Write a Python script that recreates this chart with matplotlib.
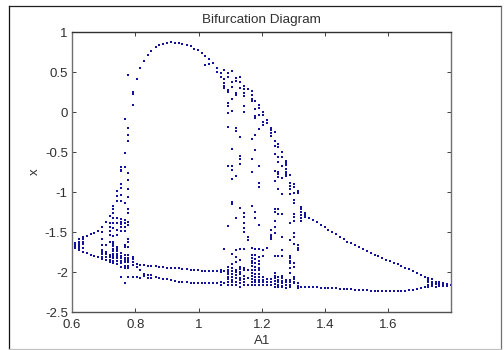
import matplotlib
matplotlib.use("Agg")
import matplotlib.pyplot as plt
from matplotlib.lines import Line2D

plt.rcParams['font.family'] = ['Liberation Sans', 'DejaVu Sans']

# one (A1, [x values]) entry per parameter step
left_band = [
    (0.608, [-1.64, -1.66, -1.68, -1.70]),
    (0.622, [-1.59, -1.62, -1.65, -1.68, -1.70, -1.725]),
    (0.634, [-1.56, -1.59, -1.62, -1.65, -1.70, -1.755]),
    (0.646, [-1.546, -1.767]),
    (0.659, [-1.525, -1.788]),
    (0.671, [-1.508, -1.80]),
    (0.682, [-1.488, -1.817]),
    (0.695, [-1.442, -1.504, -1.588, -1.663, -1.725, -1.75, -1.78, -1.81, -1.842]),
    (0.707, [-1.371, -1.663, -1.746, -1.78, -1.815, -1.85]),
    (0.720, [-1.30, -1.383, -1.433, -1.483, -1.537, -1.62, -1.788, -1.815, -1.845, -1.871]),
    (0.731, [-1.175, -1.217, -1.258, -1.329, -1.383, -1.454, -1.55, -1.62, -1.65, -1.68, -1.71,
             -1.74, -1.77, -1.80, -1.83, -1.86, -1.892]),
    (0.742, [-0.988, -1.05, -1.108, -1.33, -1.392, -1.475, -1.537, -1.683, -1.71, -1.74, -1.77,
             -1.80, -1.83, -1.86, -1.904]),
    (0.756, [-0.683, -0.72, -0.733, -0.90, -0.954, -1.038, -1.108, -1.342, -1.37, -1.40, -1.433,
             -1.483, -1.767, -1.80, -1.83, -1.86, -1.89, -1.933, -2.058]),
    (0.768, [-0.092, -0.513, -0.683, -1.142, -1.35, -1.39, -1.433, -1.488, -1.66, -1.69, -1.788,
             -1.82, -1.85, -1.88, -1.92, -1.954, -2.142]),
    (0.778, [0.463, -0.196, -0.288, -0.358, -0.758, -0.85, -0.967, -1.058, -1.217, -1.267, -1.371,
             -1.413, -1.592, -1.63, -1.692, -1.788, -1.82, -1.85, -1.88, -1.92, -1.954, -2.067]),
    (0.792, [0.25, 0.225, 0.092, -1.808, -1.84, -1.87, -1.913, -2.058]),
]

upper_arc = [
    (0.804, [0.417, -1.904, -1.942, -2.058]),
    (0.815, [0.546, -1.913, -1.975, -2.071]),
    (0.829, [0.637, -1.913, -2.021, -2.05]),
    (0.841, [0.712, -1.921, -2.042, -2.079]),
    (0.851, [0.767, -1.925, -2.042, -2.079]),
    (0.865, [0.808, -1.929, -2.067]),
    (0.876, [0.842, -1.937, -2.075]),
    (0.888, [0.854, -1.942, -2.083]),
    (0.901, [0.867, -1.946, -2.092]),
    (0.913, [0.871, -1.95, -2.104]),
    (0.926, [0.863, -1.954, -2.117]),
    (0.938, [0.858, -1.954, -2.121]),
    (0.949, [0.85, -1.958, -2.125]),
    (0.963, [0.833, -1.967, -2.129]),
    (0.975, [0.821, -1.971, -2.133]),
    (0.986, [0.792, -1.975, -2.138]),
    (0.999, [0.771, -1.979, -2.142]),
    (1.010, [0.737, -1.983, -2.142]),
    (1.021, [0.704, 0.587, -1.983, -2.142]),
    (1.034, [0.662, 0.60, -1.983, -2.142]),
    (1.045, [0.617, -1.988, -2.142]),
    (1.058, [0.554, 0.504, -1.988, -2.142]),
]

chaos_columns = [
    (1.070, [0.483, 0.442, -1.975, -2.0, -2.12, -2.163]),
    (1.082, [0.525, 0.412, 0.358, 0.33, 0.296, -1.708, -1.988, -2.142]),
    (1.094, [0.483, 0.433, 0.275, 0.246, 0.117, 0.079, -0.008, -0.183, -0.671, -1.425, -1.942,
             -1.97, -2.0, -2.03, -2.06, -2.09, -2.12, -2.163]),
    (1.107, [0.517, 0.371, 0.317, 0.167, 0.012, -0.463, -0.671, -0.721, -0.838, -1.121, -1.154,
             -1.775, -1.90, -1.954, -1.99, -2.02, -2.06, -2.10, -2.13, -2.163]),
    (1.119, [0.421, 0.392, 0.242, 0.208, -0.196, -0.233, -0.80, -1.321, -1.725, -1.817, -1.871,
             -1.975, -2.0, -2.04, -2.08, -2.12, -2.163]),
    (1.132, [0.433, 0.371, 0.304, -0.317, -0.55, -0.583, -0.65, -1.204, -1.717, -1.85, -1.933,
             -1.96, -2.0, -2.03, -2.07, -2.10, -2.14, -2.183]),
    (1.143, [0.325, 0.283, 0.242, 0.204, 0.075, 0.004, -1.267, -1.308, -1.383, -1.454, -1.504,
             -1.713, -1.954, -1.98, -2.05, -2.09, -2.13, -2.163]),
    (1.155, [0.283, -1.558, -1.6, -1.975, -2.079, -2.163]),
    (1.169, [0.258, 0.208, 0.158, 0.137, -0.337, -0.583, -0.75, -1.171, -1.696, -1.788, -1.82,
             -1.86, -1.892, -1.93, -1.97, -2.01, -2.05, -2.09, -2.13, -2.163]),
    (1.180, [0.142, 0.033, -0.046, -0.079, -0.288, -0.471, -1.254, -1.329, -1.713, -1.788, -1.84,
             -1.89, -1.94, -1.98, -2.02, -2.06, -2.10, -2.13, -2.163]),
    (1.192, [0.087, 0.054, -0.042, -0.208, -0.679, -0.883, -0.933, -1.413, -1.717, -1.817, -1.86,
             -1.90, -1.95, -1.98, -2.02, -2.06, -2.10, -2.13, -2.163]),
    (1.204, [-0.004, -0.033, -0.121, -0.163, -1.725, -1.80, -2.067, -2.10, -2.13, -2.163]),
    (1.216, [-0.10, -0.133, -1.704, -2.092, -2.12, -2.163]),
    (1.228, [-0.196, -0.225, -0.267, -0.296, -1.475, -1.537, -1.565, -1.592, -2.092, -2.12, -2.163]),
    (1.241, [-0.246, -0.358, -0.421, -0.525, -0.738, -0.863, -1.213, -1.254, -1.358, -1.433, -1.508,
             -1.80, -2.017, -2.05, -2.08, -2.11, -2.15, -2.183]),
    (1.252, [-0.40, -0.433, -0.563, -0.621, -0.746, -0.78, -0.808, -0.967, -1.213, -1.275, -1.80,
             -2.067, -2.10, -2.13, -2.16, -2.19]),
    (1.263, [-0.504, -0.563, -0.679, -0.821, -1.025, -1.275, -1.567, -1.725, -1.80, -2.05, -2.08,
             -2.11, -2.14, -2.17, -2.19]),
    (1.277, [-0.608, -0.635, -0.662, -0.708, -0.746, -0.77, -0.80, -2.10, -2.13, -2.16, -2.204]),
    (1.289, [-0.792, -0.883, -0.92, -0.967, -1.025, -1.392, -1.60, -1.80, -1.83, -1.86, -1.883,
             -1.954, -2.008, -2.10, -2.13, -2.16, -2.183]),
    (1.303, [-0.90, -0.933, -1.017, -1.10, -1.142, -1.275, -1.308, -1.358, -1.517, -1.567, -1.65,
             -1.892, -1.933, -2.058, -2.09, -2.12, -2.142]),
    (1.314, [-0.983, -1.017, -1.663, -1.70, -1.725, -2.142, -2.17, -2.204]),
]

right_branches = [
    (1.325, [-1.183, -1.215, -1.246, -1.288, -1.32, -1.358, -2.183]),
    (1.337, [-1.258, -1.29, -1.317, -2.183]),
    (1.350, [-1.321, -2.188]),
    (1.362, [-1.35, -2.188]),
    (1.374, [-1.379, -2.192]),
    (1.386, [-1.408, -2.196]),
    (1.399, [-1.442, -2.196]),
    (1.411, [-1.475, -2.204]),
    (1.423, [-1.504, -2.204]),
    (1.434, [-1.525, -2.204]),
    (1.448, [-1.563, -2.208]),
    (1.459, [-1.592, -2.213]),
    (1.470, [-1.621, -2.217]),
    (1.483, [-1.642, -2.217]),
    (1.496, [-1.663, -2.221]),
    (1.507, [-1.692, -2.225]),
    (1.520, [-1.713, -2.229]),
    (1.533, [-1.738, -2.229]),
    (1.545, [-1.758, -2.233]),
    (1.557, [-1.783, -2.238]),
    (1.569, [-1.804, -2.238]),
    (1.581, [-1.829, -2.238]),
    (1.593, [-1.846, -2.238]),
    (1.606, [-1.863, -2.238]),
    (1.617, [-1.883, -2.238]),
    (1.630, [-1.904, -2.238]),
    (1.641, [-1.921, -2.238]),
    (1.654, [-1.946, -2.233]),
    (1.667, [-1.963, -2.229]),
    (1.678, [-1.988, -2.225]),
    (1.691, [-2.013, -2.208]),
    (1.703, [-2.033, -2.196]),
    (1.715, [-2.063, -2.183]),
    (1.727, [-2.079, -2.10, -2.121, -2.163, -2.19]),
    (1.738, [-2.092, -2.12, -2.15, -2.175]),
    (1.751, [-2.121, -2.15, -2.183]),
    (1.762, [-2.13, -2.15, -2.175]),
    (1.773, [-2.138, -2.155, -2.175]),
    (1.786, [-2.146, -2.175]),
    (1.799, [-2.163]),
]

x_ticks = [0.6, 0.8, 1.0, 1.2, 1.4, 1.6]
x_tick_labels = ['0.6', '0.8', '1', '1.2', '1.4', '1.6']
y_ticks = [-2.5, -2, -1.5, -1, -0.5, 0, 0.5, 1]
y_tick_labels = ['-2.5', '-2', '-1.5', '-1', '-0.5', '0', '0.5', '1']

fig = plt.figure(figsize=(5.04, 3.5), dpi=100)
ax = fig.add_axes([72 / 504, 1 - 312 / 350, 379.5 / 504, 280 / 350])

for group in [left_band, upper_arc, chaos_columns, right_branches]:
    for a1, values in group:
        ax.scatter([a1] * len(values), values, s=3.2, marker='s', color='#12129a', linewidths=0)

ax.set_xlim(0.6, 1.8)
ax.set_ylim(-2.5, 1)
ax.set_xticks(x_ticks)
ax.set_xticklabels(x_tick_labels)
ax.set_yticks(y_ticks)
ax.set_yticklabels(y_tick_labels)
ax.tick_params(direction='in', length=3, width=0.7, top=True, right=True, labelsize=9.5,
               color='#404040', labelcolor='#303030')
ax.tick_params(axis='x', pad=5)
ax.tick_params(axis='y', pad=3)
ax.spines['left'].set_color('#707070')
ax.spines['right'].set_color('#707070')
ax.spines['top'].set_color('#303030')
ax.spines['bottom'].set_color('#505050')
for spine in ax.spines.values():
    spine.set_linewidth(1)

ax.set_title('Bifurcation Diagram', fontsize=9.7, color='#303030', pad=6.5)
ax.set_xlabel('A1', fontsize=9.5, color='#303030', labelpad=3)
ax.set_ylabel('x', fontsize=9.5, color='#303030', labelpad=3)

# frame of the screenshot, darker on the top and left
frame_x = [8.5 / 504, 500.5 / 504]
frame_y = [1 - 349 / 350, 1 - 5.5 / 350]
fig.add_artist(Line2D([frame_x[0], frame_x[0]], frame_y, color='#101010', linewidth=0.9))
fig.add_artist(Line2D(frame_x, [frame_y[1], frame_y[1]], color='#202020', linewidth=0.9))
fig.add_artist(Line2D([frame_x[1], frame_x[1]], frame_y, color='#707070', linewidth=0.9))
fig.add_artist(Line2D(frame_x, [frame_y[0], frame_y[0]], color='#c0c0c0', linewidth=0.9))

fig.savefig('out.png', dpi=100)
